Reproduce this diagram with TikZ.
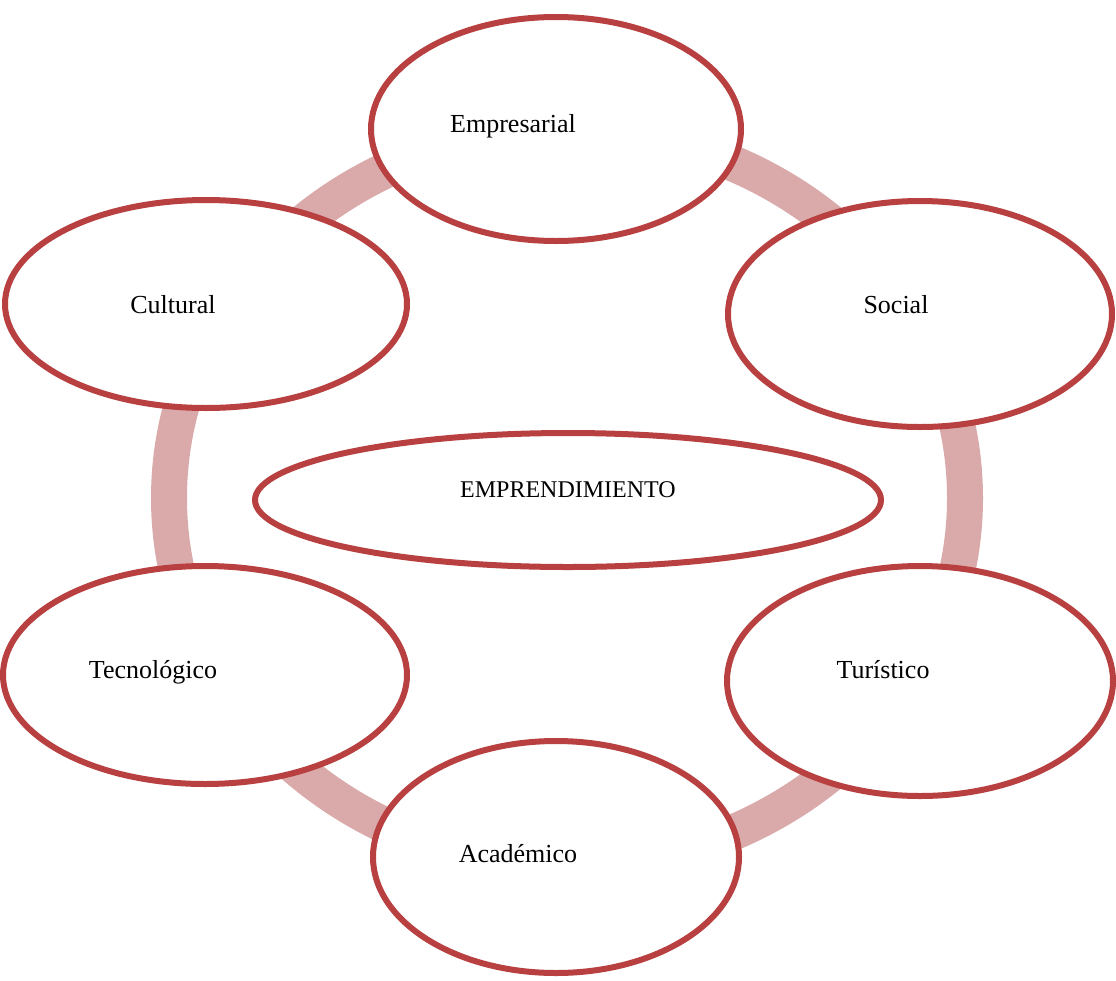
\documentclass[tikz,border=0pt]{standalone}
\usepackage{fontspec}
\setmainfont{Liberation Serif}
\usetikzlibrary{shapes.geometric}
\definecolor{ringc}{RGB}{218,170,170}
\definecolor{borderc}{RGB}{184,64,64}
\begin{document}
\begin{tikzpicture}[x=1pt,y=-1pt,
  oval/.style={ellipse,draw=borderc,fill=white,line width=6pt,inner sep=0pt,outer sep=0pt},
  lbl/.style={anchor=base,inner sep=0pt,font=\fontsize{26pt}{30pt}\selectfont},
  ring/.style={draw=ringc,line width=36pt}]
\useasboundingbox (0,0) rectangle (1116,980);
\draw[ring] (567,498) ellipse [x radius=398, y radius=368];
\node[oval,minimum width=370pt,minimum height=224pt] (emp) at (556,129) {};
\node[oval,minimum width=384pt,minimum height=226pt] (soc) at (920,314) {};
\node[oval,minimum width=402pt,minimum height=208pt] (cul) at (206,304) {};
\node[oval,minimum width=626pt,minimum height=134pt] (cen) at (568,500) {};
\node[oval,minimum width=404pt,minimum height=218pt] (tec) at (205,675) {};
\node[oval,minimum width=386pt,minimum height=230pt] (tur) at (920,681) {};
\node[oval,minimum width=366pt,minimum height=232pt] (aca) at (556,857) {};
\node[lbl] (temp) at (513,132) {Empresarial};
\node[lbl] (tsoc) at (896,313) {Social};
\node[lbl] (tcul) at (173,313) {Cultural};
\node[lbl,font=\fontsize{24pt}{28pt}\selectfont] (tcen) at (568,497) {EMPRENDIMIENTO};
\node[lbl] (ttec) at (153,678) {Tecnológico};
\node[lbl] (ttur) at (883,678) {Turístico};
\node[lbl] (taca) at (518,862) {Académico};
\end{tikzpicture}
\end{document}
